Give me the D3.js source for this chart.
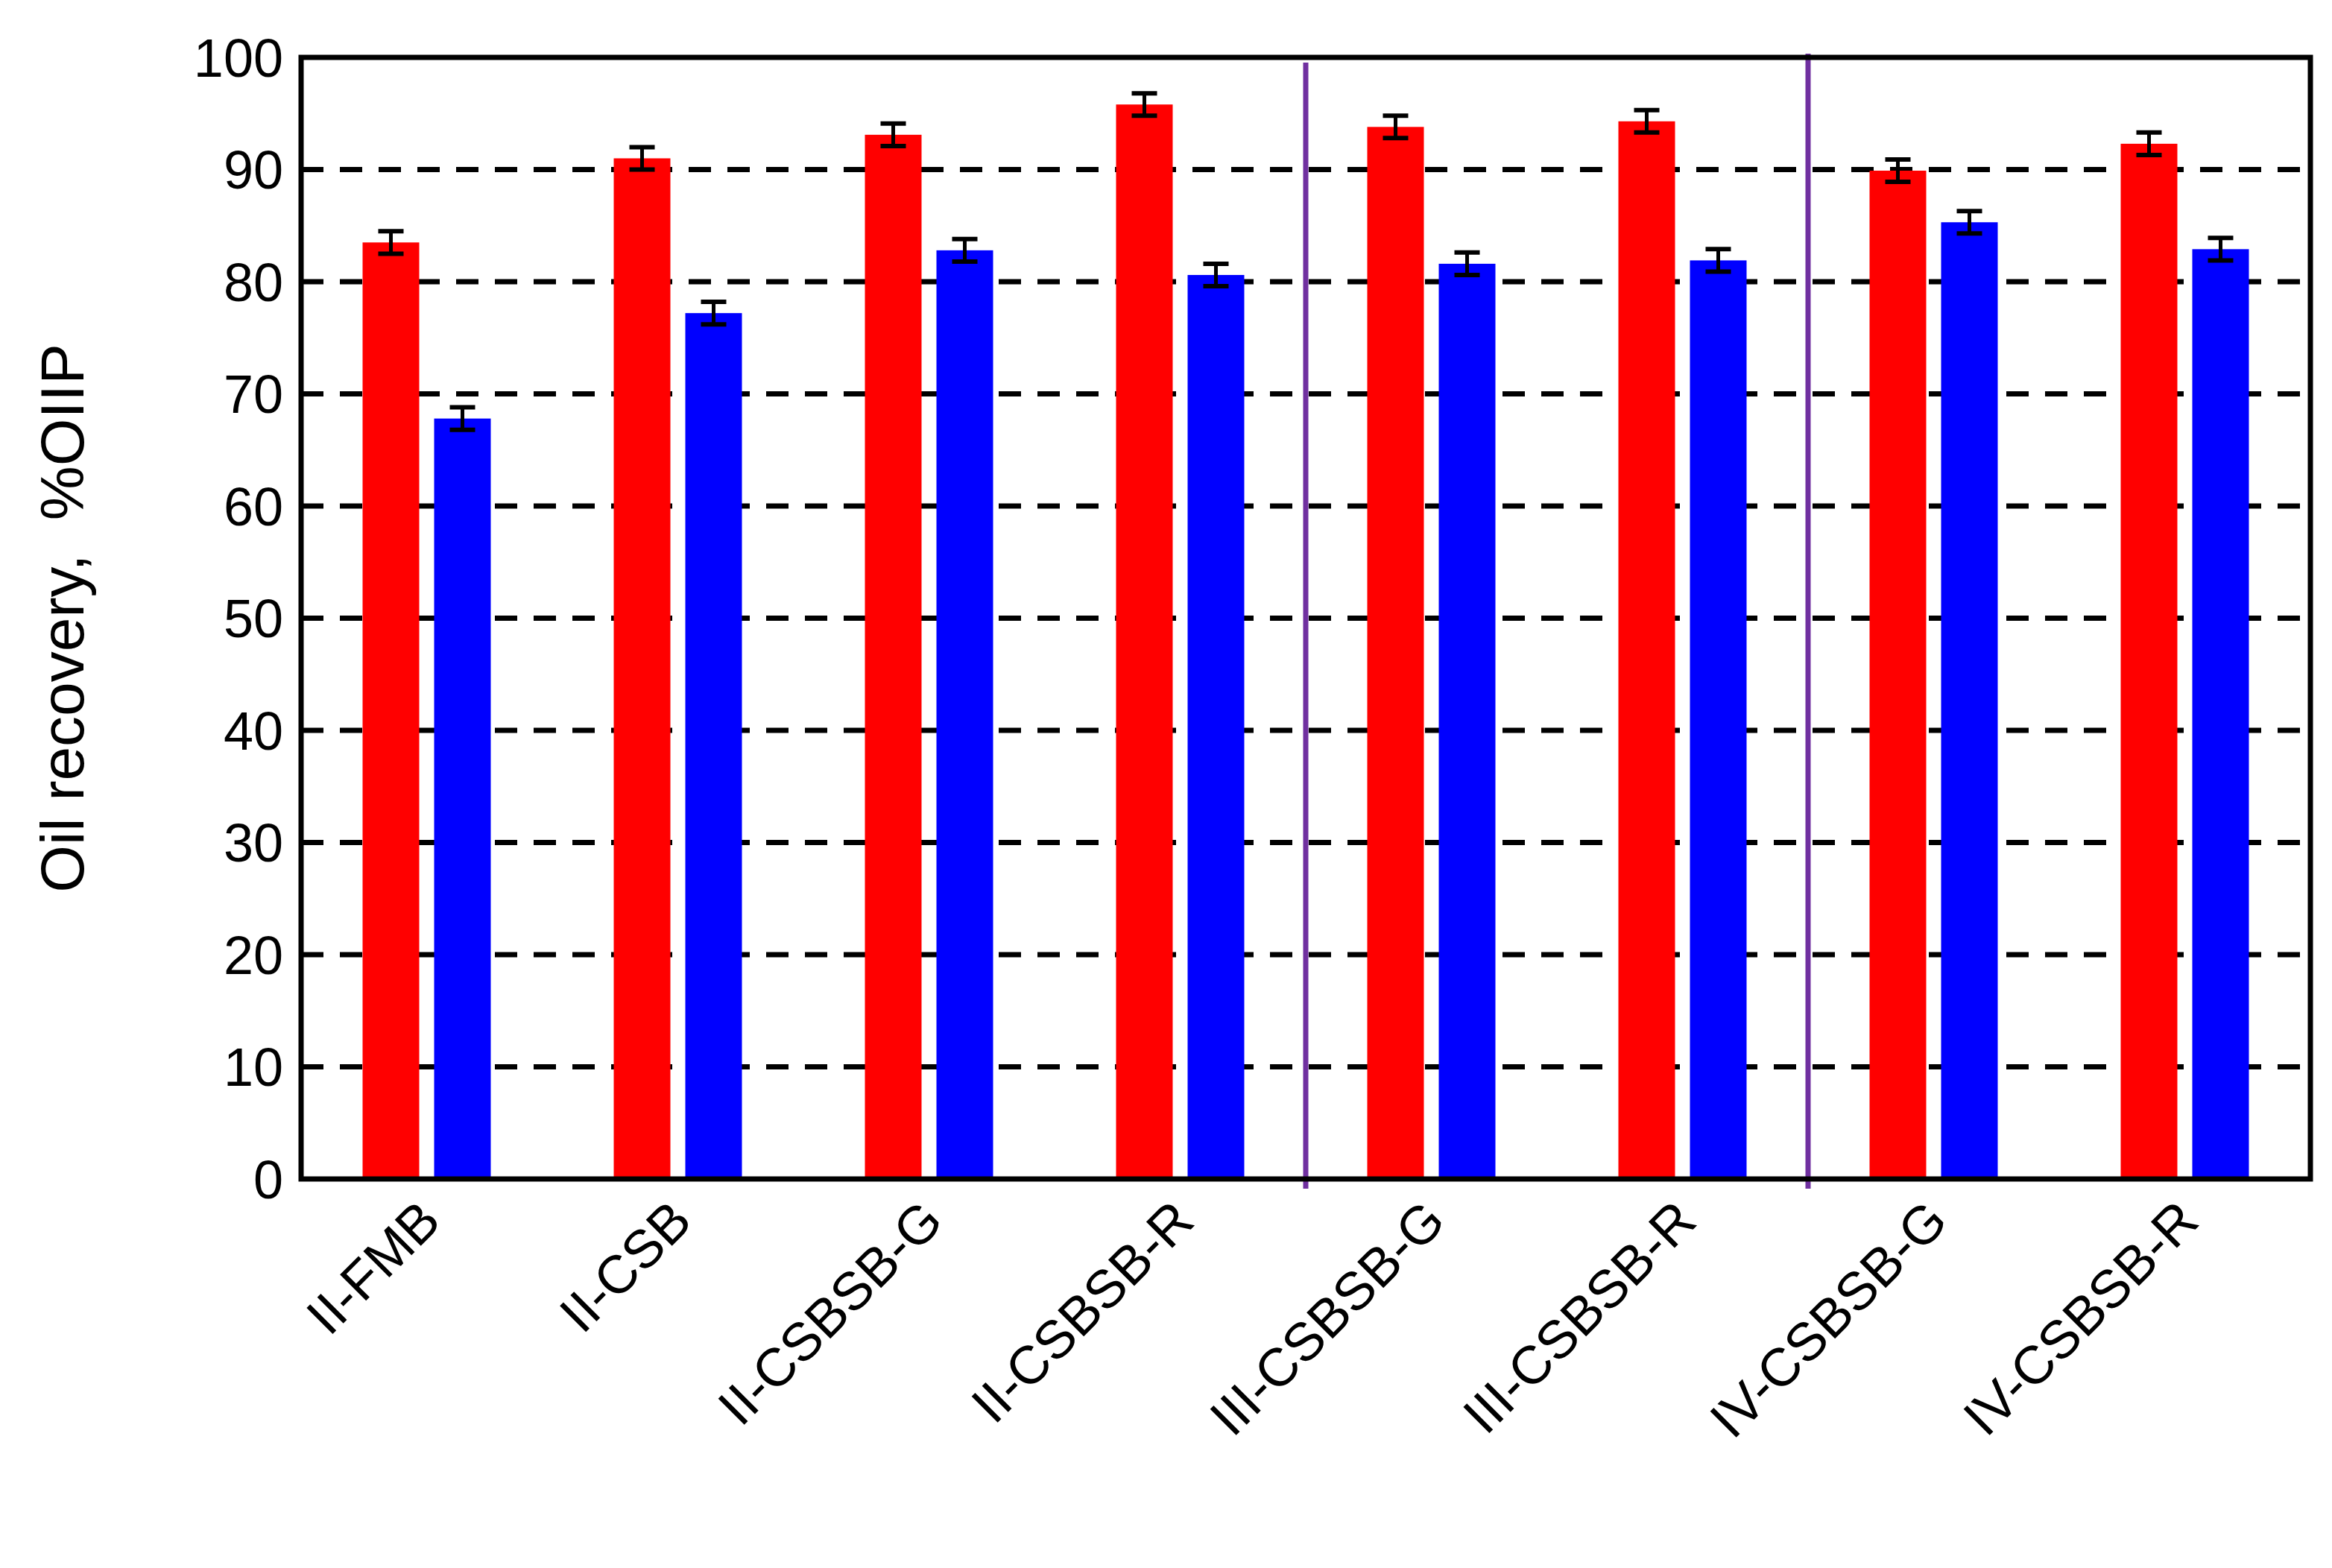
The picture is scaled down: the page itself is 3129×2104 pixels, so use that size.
<!DOCTYPE html>
<html><head><meta charset="utf-8">
<script src="https://cdn.jsdelivr.net/npm/d3@7"></script>
<style>body{margin:0;background:#fff}</style>
</head><body>
<svg id="chart" width="3129" height="2104"></svg>
<script>
// chart data
const categories = ["II-FMB", "II-CSB", "II-CSBSB-G", "II-CSBSB-R", "III-CSBSB-G", "III-CSBSB-R", "IV-CSBSB-G", "IV-CSBSB-R"];
const redValues = [83.5, 91.0, 93.1, 95.8, 93.8, 94.3, 89.9, 92.3];
const blueValues = [67.8, 77.2, 82.8, 80.6, 81.6, 81.9, 85.3, 82.9];
const redErr = [1, 1, 1, 1, 1, 1, 1, 1];
const blueErr = [1, 1, 1, 1, 1, 1, 1, 1];
const yTicks = [0, 10, 20, 30, 40, 50, 60, 70, 80, 90, 100];
const dividerAfter = [3, 5];

const mLeft = 404, mRight = 3100, mTop = 77, mBottom = 1582;
const svg = d3.select("#chart");
const font = "Arial, 'Liberation Sans', sans-serif";

const x = d3.scaleBand().domain(categories).range([mLeft, mRight]);
const y = d3.scaleLinear().domain([0, 100]).range([mBottom, mTop]);
const barW = 76, gap = 20;

// dashed grid
svg.append("g").selectAll("line").data(yTicks.filter(t => t > 0 && t < 100)).join("line")
  .attr("x1", mLeft).attr("x2", mRight).attr("y1", d => y(d)).attr("y2", d => y(d))
  .attr("stroke", "#000").attr("stroke-width", 7).attr("stroke-dasharray", "30,22");

const series = [
  {vals: redValues, err: redErr, color: "#ff0000", off: -gap / 2 - barW},
  {vals: blueValues, err: blueErr, color: "#0000ff", off: gap / 2}
];
series.forEach(s => {
  const g = svg.append("g");
  g.selectAll("rect").data(categories).join("rect")
    .attr("x", (d) => x(d) + x.bandwidth() / 2 + s.off)
    .attr("width", barW)
    .attr("y", (d, i) => y(s.vals[i]))
    .attr("height", (d, i) => y(0) - y(s.vals[i]))
    .attr("fill", s.color);
  categories.forEach((c, i) => {
    const cx = x(c) + x.bandwidth() / 2 + s.off + barW / 2;
    const y1 = y(s.vals[i] + s.err[i]), y2 = y(s.vals[i] - s.err[i]);
    g.append("line").attr("x1", cx).attr("x2", cx).attr("y1", y1).attr("y2", y2).attr("stroke", "#000").attr("stroke-width", 5);
    [y1, y2].forEach(yy => g.append("line").attr("x1", cx - 17).attr("x2", cx + 17).attr("y1", yy).attr("y2", yy).attr("stroke", "#000").attr("stroke-width", 6));
  });
});

// purple dividers
svg.append("g").selectAll("line").data(dividerAfter).join("line")
  .attr("x1", d => x(categories[d]) + x.bandwidth()).attr("x2", d => x(categories[d]) + x.bandwidth())
  .attr("y1", (d, i) => i === 0 ? 84 : 72).attr("y2", 1595)
  .attr("stroke", "#7030a0").attr("stroke-width", 7);

// frame
svg.append("rect").attr("x", mLeft).attr("y", mTop).attr("width", mRight - mLeft).attr("height", mBottom - mTop)
  .attr("fill", "none").attr("stroke", "#000").attr("stroke-width", 7);

// y ticks
svg.append("g").selectAll("text").data(yTicks).join("text")
  .attr("x", mLeft - 24).attr("y", d => y(d)).attr("dy", "0.36em")
  .attr("text-anchor", "end").attr("font-family", font).attr("font-size", 72).text(d => d);

// x labels
svg.append("g").selectAll("text").data(categories).join("text")
  .attr("transform", d => `translate(${x(d) + x.bandwidth() / 2 + 22},${mBottom + 60}) rotate(-45)`)
  .attr("text-anchor", "end").attr("font-family", font).attr("font-size", 72).text(d => d);

// y title
svg.append("text").attr("transform", `translate(82,${(mTop + mBottom) / 2}) rotate(-90)`)
  .attr("text-anchor", "middle").attr("dy", "0.36em").attr("font-family", font).attr("font-size", 82)
  .attr("xml:space", "preserve").text("Oil recovery,  %OIIP");
</script>
</body></html>
